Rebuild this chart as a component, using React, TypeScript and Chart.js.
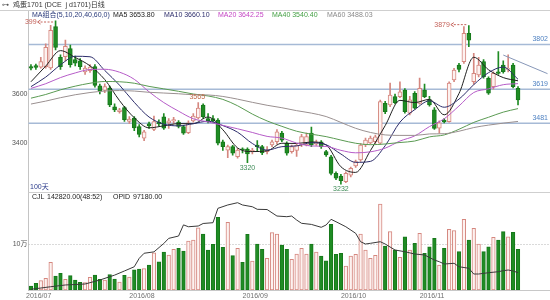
import React, { useEffect, useRef } from 'react';
import { Chart, registerables } from 'chart.js';

Chart.register(...registerables);

const FONT = "'Liberation Sans', Arial, 'Noto Sans CJK SC', sans-serif";

// ---- daily candles (egg futures 1701) ----
const OPEN = [3712,3716,3710,3712,3706,3875,3750,3752,3785,3740,
  3735,3690,3695,3712,3633,3615,3624,3548,3528,3545,
  3488,3502,3467,3420,3478,3455,3485,3507,3482,3490,
  3485,3467,3442,3490,3502,3555,3500,3500,3494,3405,
  3371,3385,3344,3376,3375,3365,3392,3385,3365,3392,
  3405,3441,3400,3365,3370,3392,3392,3441,3395,3405,
  3365,3344,3276,3265,3242,3269,3306,3331,3392,3400,
  3405,3399,3562,3555,3589,3589,3616,3522,3603,3562,
  3616,3576,3535,3461,3494,3487,3657,3718,3732,3848,
  3650,3678,3732,3664,3630,3691,3718,3700,3718,3623];
const HIGH = [3720,3722,3750,3805,3880,3899,3760,3820,3800,3755,
  3745,3715,3720,3720,3640,3642,3632,3560,3542,3550,
  3508,3508,3475,3452,3485,3510,3495,3520,3500,3505,
  3492,3472,3490,3520,3565,3560,3520,3512,3500,3412,
  3392,3390,3378,3380,3380,3378,3410,3390,3385,3412,
  3455,3448,3405,3392,3395,3435,3440,3465,3412,3410,
  3370,3350,3282,3272,3282,3302,3330,3398,3420,3428,
  3432,3575,3570,3645,3600,3650,3622,3590,3610,3665,
  3640,3590,3545,3490,3500,3650,3705,3725,3875,3879,
  3766,3750,3740,3670,3690,3773,3735,3760,3725,3630];
const LOW = [3698,3700,3705,3705,3700,3780,3700,3735,3710,3715,
  3700,3680,3688,3628,3600,3605,3548,3528,3522,3488,
  3480,3450,3425,3410,3460,3450,3470,3455,3460,3480,
  3462,3435,3438,3485,3498,3500,3482,3485,3392,3370,
  3340,3350,3338,3360,3320,3355,3365,3352,3355,3385,
  3395,3405,3350,3358,3345,3385,3388,3385,3390,3378,
  3345,3270,3250,3232,3238,3262,3300,3325,3385,3395,
  3398,3395,3520,3548,3560,3585,3522,3515,3538,3558,
  3585,3550,3455,3440,3482,3485,3650,3690,3725,3793,
  3640,3670,3665,3598,3620,3680,3685,3690,3625,3555];
const CLOSE = [3705,3708,3732,3790,3860,3790,3712,3795,3720,3726,
  3712,3706,3710,3635,3612,3630,3555,3535,3535,3495,
  3498,3462,3435,3446,3470,3487,3478,3461,3490,3496,
  3468,3440,3482,3510,3543,3507,3490,3490,3399,3385,
  3385,3358,3371,3372,3355,3370,3385,3360,3372,3405,
  3446,3412,3359,3385,3390,3426,3426,3392,3405,3385,
  3351,3276,3256,3246,3276,3297,3324,3392,3412,3420,
  3425,3569,3528,3596,3565,3609,3528,3576,3542,3623,
  3589,3555,3460,3482,3486,3645,3698,3700,3848,3820,
  3684,3718,3671,3603,3684,3684,3691,3705,3630,3576];

// ---- volume (CJL) ----
const VOLUME = [8800,14700,20400,25600,60600,30600,36500,23400,31300,21900,
  16800,16000,27800,32800,23400,21900,33500,24100,17500,32200,
  28400,44400,46000,46600,54700,81600,61900,83100,76600,89100,
  91200,85300,107200,109400,136300,122500,87500,100000,159100,93400,
  148100,75100,91200,60600,121900,63500,100700,89100,69400,125400,
  122500,98500,89100,67200,78800,91200,78800,100700,83100,74400,
  64100,143800,78100,80300,52500,74400,78100,122500,87500,69400,
  75900,188200,96300,127600,87500,71600,116600,87500,102200,124100,
  80300,94700,113100,54700,91200,132800,129800,83800,154700,109400,
  135000,100700,83800,94700,115300,109400,127600,116600,126300,89100];
const CJL_VALUE = 142820;
const CJL_RATIO = '48:52';

// ---- open interest (OPID) ----
const OI_IDX = [0,4,7,11,14,17,19,21,22,23,25,27,28,30,31,32,34,35,37,38,40,42,43,45,46,48,50,52,53,54,55,57,59,60,61,62,64,66,67,68,69,71,72,74,76,78,80,82,83,84,86,87,89,90,91,93,95,96,97,98,99];
const OI_VAL = [61500,67000,70800,72900,81500,92000,100900,110000,128000,139000,142000,160000,171000,176000,200000,196000,197600,203000,204700,235600,242800,247700,242800,239000,233500,233000,219000,217600,219000,210500,203400,201000,194800,199800,212000,206800,196000,181900,163800,158900,160400,163800,158900,146000,142300,137400,135300,124500,120800,115900,117400,110000,106700,94400,94400,97200,99300,101500,103000,100900,97180];

// ---- moving averages ----
const MA_IDX = [0,3,6,9,12,15,18,21,24,27,30,33,36,39,42,45,48,51,54,57,60,63,66,69,72,75,78,81,84,87,90,93,96,99];
const MA5 = [3650,3714,3777,3749,3715,3659,3573,3503,3462,3470,3479,3479,3506,3454,3380,3365,3368,3399,3398,3404,3392,3303,3280,3369,3471,3574,3565,3578,3515,3602,3750,3699,3667,3653.8];
const MA10 = [3630,3669,3719,3754,3752,3696,3636,3566,3506,3477,3470,3479,3489,3471,3444,3398,3371,3385,3388,3401,3393,3355,3321,3325,3389,3485,3536,3572,3546,3579,3638,3687,3710,3660.1];
const MA20 = [3623,3642,3667,3686,3700,3701,3689,3660,3609,3565,3530,3499,3486,3472,3458,3443,3427,3420,3400,3388,3386,3370,3360,3364,3379,3408,3429,3467,3499,3551,3606,3621,3638,3642.25];
const MA40 = [3583,3598,3617,3632,3644,3651,3650,3644,3631,3621,3611,3600,3592,3578,3552,3518,3490,3468,3448,3436,3426,3412,3399,3393,3396,3402,3408,3425,3433,3456,3484,3505,3526,3540.4];
const MA60 = [3559,3571,3585,3597,3606,3612,3614,3612,3607,3604,3601,3597,3596,3590,3579,3566,3554,3544,3532,3522,3508,3484,3460,3443,3433,3431,3431,3437,3438,3448,3463,3473,3481,3488.03];

// ---- drawn lines / marks ----
const LEVELS = [3802, 3619, 3481];
const TREND_IDX = [96, 105];
const TREND_VAL = [3759, 3683];
const ARROW_MARKS = [{ i: 5, v: 3899, text: '399' }, { i: 89, v: 3879, text: '3879' }];
const HIGH_MARKS = [{ i: 34, v: 3565, text: '3565' }];
const LOW_MARKS = [{ i: 44, v: 3320, text: '3320' }, { i: 63, v: 3232, text: '3232' }];

// ---- axes ----
const MONTH_POS = [-1, 20, 43, 63, 79];
const MONTH_LABELS = ['2016/07', '2016/08', '2016/09', '2016/10', '2016/11'];
const PRICE_TICKS = [3400, 3600];
const VOL_TICK = 100000;
const VOL_TICK_LABEL = '10万';
const SLOTS = 106;

const UP_LINE = '#d5877f';
const UP_FILL = '#fdf2f0';
const DN_FILL = '#1f8c24';
const DN_LINE = '#17781b';

export default function App() {
  const ref = useRef<HTMLCanvasElement>(null);

  useEffect(() => {
    const canvas = ref.current;
    if (!canvas) return;
    const idx = CLOSE.map((_, i) => i);
    const up = idx.map((i) => CLOSE[i] >= OPEN[i]);
    const fills = up.map((u) => (u ? UP_FILL : DN_FILL));
    const lines = up.map((u) => (u ? UP_LINE : DN_LINE));
    const wicks = up.map((u) => (u ? UP_LINE : DN_FILL));

    const maDefs = [
      { name: 'MA5', data: MA5, color: '#202020' },
      { name: 'MA10', data: MA10, color: '#2c2c6a' },
      { name: 'MA20', data: MA20, color: '#b65cc8' },
      { name: 'MA40', data: MA40, color: '#5a9a52' },
      { name: 'MA60', data: MA60, color: '#9a9090' },
    ];

    const txt = (ctx: CanvasRenderingContext2D, s: string, x: number, y: number, color: string, align: CanvasTextAlign = 'left') => {
      ctx.fillStyle = color;
      ctx.textAlign = align;
      ctx.textBaseline = 'middle';
      ctx.fillText(s, x, y);
    };
    const hline = (ctx: CanvasRenderingContext2D, x1: number, x2: number, y: number) => {
      ctx.beginPath();
      ctx.moveTo(x1, y);
      ctx.lineTo(x2, y);
      ctx.stroke();
    };

    const overlay = {
      id: 'overlay',
      beforeDatasetsDraw(chart: any) {
        const { ctx, chartArea: a, scales } = chart;
        ctx.save();
        ctx.lineWidth = 1;
        ctx.strokeStyle = '#cfcfcf';
        hline(ctx, 0, a.right, 10.5);
        hline(ctx, a.left, a.right, 192.5);
        const gy = Math.round(scales.yv.getPixelForValue(VOL_TICK)) + 0.5;
        ctx.setLineDash([1, 2]);
        ctx.strokeStyle = '#b4b4b4';
        hline(ctx, a.left, a.right, gy);
        ctx.setLineDash([]);
        ctx.strokeStyle = '#a6bad6';
        ctx.lineWidth = 1.5;
        for (const v of LEVELS) hline(ctx, a.left, a.right, scales.y.getPixelForValue(v));
        ctx.restore();
      },
      afterDraw(chart: any) {
        const { ctx, chartArea: a, scales } = chart;
        const x = scales.x, y = scales.y;
        ctx.save();
        ctx.font = `7px ${FONT}`;
        // title
        txt(ctx, '⊶', 2, 5.5, '#555');
        txt(ctx, '鸡蛋1701 (DCE  j d1701)日线', 13, 5.5, '#333');
        // legend
        txt(ctx, 'MA组合(5,10,20,40,60,0)', 32, 14.7, '#2a3a7a');
        const lx = [113, 164, 218, 272, 327];
        maDefs.forEach((m, k) => {
          const last = m.data[m.data.length - 1];
          const col = m.name === 'MA20' ? '#c445c4' : m.name === 'MA40' ? '#44a044' : m.name === 'MA60' ? '#8a8a8a' : m.color;
          txt(ctx, `${m.name} ${last.toFixed(2)}`, lx[k], 14.7, col);
        });
        // level labels
        for (const v of LEVELS) {
          const py = y.getPixelForValue(v);
          ctx.fillStyle = '#4f82c2';
          ctx.textAlign = 'right';
          ctx.textBaseline = 'bottom';
          ctx.fillText(String(v), a.right - 2, py - 1.5);
        }
        // arrow marks
        for (const m of ARROW_MARKS) {
          const px = x.getPixelForValue(m.i);
          const py = Math.max(y.getPixelForValue(m.v) - 1, a.top + 12);
          ctx.strokeStyle = '#c4625a';
          ctx.lineWidth = 1;
          ctx.setLineDash([2, 1.5]);
          hline(ctx, px - 15, px - 1, py);
          ctx.setLineDash([]);
          ctx.beginPath();
          ctx.moveTo(px - 15, py - 2);
          ctx.lineTo(px - 18, py);
          ctx.lineTo(px - 15, py + 2);
          ctx.stroke();
          txt(ctx, m.text, px - 19, py, '#c4625a', 'right');
        }
        for (const m of HIGH_MARKS) {
          txt(ctx, m.text, x.getPixelForValue(m.i) - 1, y.getPixelForValue(m.v) - 6, '#c06848', 'center');
        }
        for (const m of LOW_MARKS) {
          txt(ctx, m.text, x.getPixelForValue(m.i), y.getPixelForValue(m.v) + 5, '#3f8c58', 'center');
        }
        // panel texts
        txt(ctx, `${CLOSE.length}天`, 30, 187, '#2a3a8a');
        txt(ctx, 'CJL', 32, 197.5, '#222');
        txt(ctx, `${CJL_VALUE.toFixed(2)}(${CJL_RATIO})`, 47, 197.5, '#222');
        txt(ctx, 'OPID', 113, 197.5, '#222');
        txt(ctx, OI_VAL[OI_VAL.length - 1].toFixed(2), 133, 197.5, '#222');
        txt(ctx, VOL_TICK_LABEL, a.left - 1, scales.yv.getPixelForValue(VOL_TICK), '#555', 'right');
        ctx.restore();
      },
    };

    const datasets: any[] = [
      {
        type: 'bar', label: 'CJL', yAxisID: 'yv',
        data: idx.map((i) => ({ x: i, y: VOLUME[i] })),
        backgroundColor: fills, borderColor: lines, borderWidth: 1, borderSkipped: false,
        barThickness: 3.6, grouped: false, order: 10,
      },
      {
        type: 'line', label: 'OPID', yAxisID: 'yoi',
        data: OI_IDX.map((xv, k) => ({ x: xv, y: OI_VAL[k] })),
        borderColor: '#3a3a3a', borderWidth: 1, pointRadius: 0, tension: 0, order: 9,
      },
      {
        type: 'bar', label: 'wick', yAxisID: 'y',
        data: idx.map((i) => ({ x: i, y: [LOW[i], HIGH[i]] })),
        backgroundColor: wicks, borderWidth: 0, barThickness: 1, grouped: false, order: 8,
      },
      {
        type: 'bar', label: 'body', yAxisID: 'y',
        data: idx.map((i) => ({ x: i, y: [OPEN[i], CLOSE[i]] })),
        backgroundColor: fills, borderColor: lines, borderWidth: 1, borderSkipped: false,
        barThickness: 4, grouped: false, minBarLength: 1, order: 7,
      },
      ...maDefs.map((m, k) => ({
        type: 'line', label: m.name, yAxisID: 'y',
        data: MA_IDX.map((xv, j) => ({ x: xv, y: m.data[j] })),
        borderColor: m.color, borderWidth: 1, pointRadius: 0,
        cubicInterpolationMode: 'monotone', order: 6 - k,
      })),
      {
        type: 'line', label: 'trend', yAxisID: 'y',
        data: TREND_IDX.map((xv, k) => ({ x: xv, y: TREND_VAL[k] })),
        borderColor: '#8797b8', borderWidth: 1, pointRadius: 0, order: 0,
      },
    ];

    const chart = new Chart(canvas, {
      type: 'bar',
      data: { datasets },
      options: {
        responsive: false,
        devicePixelRatio: 1,
        animation: false,
        events: [],
        layout: { padding: { top: 10, left: 0, right: 0, bottom: 0 } },
        plugins: { legend: { display: false }, tooltip: { enabled: false } },
        scales: {
          x: {
            type: 'linear', position: 'bottom', min: -0.5, max: SLOTS - 0.5, offset: false,
            grid: { display: false, drawTicks: false },
            border: { display: true, color: '#c8c8c8' },
            ticks: {
              font: { size: 7, family: FONT }, color: '#707070', padding: 2,
              align: 'start', maxRotation: 0, autoSkip: false,
              callback: (v: any) => {
                const k = MONTH_POS.indexOf(Number(v));
                return k >= 0 ? MONTH_LABELS[k] : '';
              },
            },
            afterBuildTicks: (s: any) => { s.ticks = MONTH_POS.map((v) => ({ value: v })); },
            afterFit: (s: any) => { s.height = 10; },
          },
          y: {
            type: 'linear', position: 'left', min: 2800, max: 3942.86, beginAtZero: false,
            grid: { display: false, drawTicks: false },
            border: { display: true, color: '#c4c4c4' },
            ticks: {
              font: { size: 7, family: FONT }, color: '#555', padding: 1, autoSkip: false,
              callback: (v: any) => String(v),
            },
            afterBuildTicks: (s: any) => { s.ticks = PRICE_TICKS.map((v) => ({ value: v })); },
            afterFit: (s: any) => { s.width = 28.5; },
          },
          yv: { type: 'linear', display: false, min: 0, max: 612700 },
          yoi: { type: 'linear', display: false, min: 60000, max: 662000 },
        },
      } as any,
      plugins: [overlay],
    });
    return () => chart.destroy();
  }, []);

  return (
    <div style={{ position: 'fixed', left: 0, top: 0, width: 550, height: 300, background: '#fff' }}>
      <canvas ref={ref} width={550} height={300} style={{ display: 'block', width: 550, height: 300 }} />
    </div>
  );
}
